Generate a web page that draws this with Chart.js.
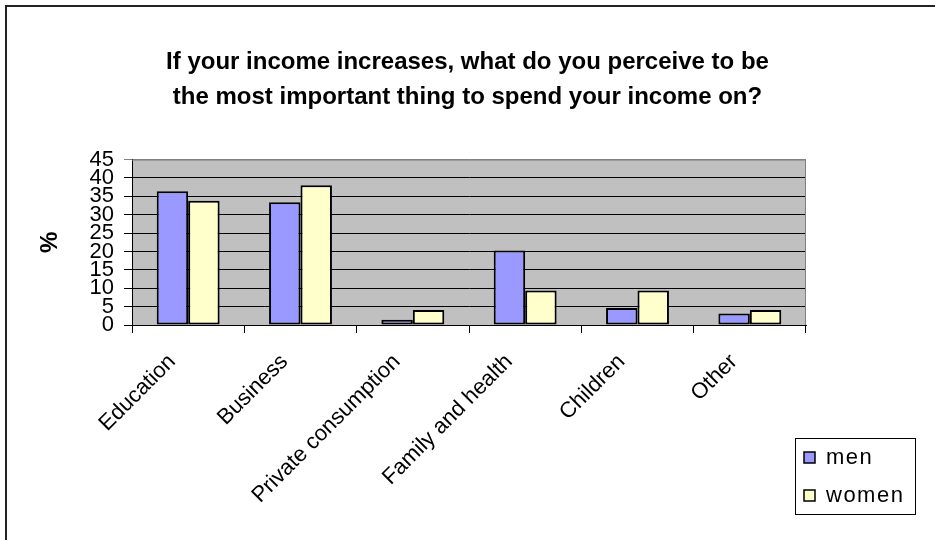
<!DOCTYPE html>
<html>
<head>
<meta charset="utf-8">
<script src="https://cdn.jsdelivr.net/npm/chart.js@4.4.1/dist/chart.umd.min.js"></script>
<style>
  html, body { margin: 0; padding: 0; background: #fff; }
  #wrap { width: 935px; height: 540px; position: relative; }
</style>
</head>
<body>
<div id="wrap"><canvas id="bar-chart" width="935" height="540"></canvas></div>
<script>
var categories = ['Education', 'Business', 'Private consumption', 'Family and health', 'Children', 'Other'];
var menValues = [36.4, 33.4, 1.4, 20.3, 4.6, 3.1];
var womenValues = [33.8, 38.0, 4.1, 9.4, 9.4, 4.1];
var yTicks = [0, 5, 10, 15, 20, 25, 30, 35, 40, 45];
var titleLines = ['If your income increases, what do you perceive to be', 'the most important thing to spend your income on?'];

var fontName = '"Liberation Sans", Arial, sans-serif';

// grey plot area + outer frame
var backgroundPlugin = {
    id: 'background',
    beforeDraw: function(chart) {
        var ctx = chart.ctx;
        var a = chart.chartArea;
        ctx.save();
        ctx.fillStyle = '#fff';
        ctx.fillRect(0, 0, chart.width, chart.height);
        ctx.strokeStyle = '#222';
        ctx.lineWidth = 2;
        ctx.beginPath();
        ctx.moveTo(6, chart.height + 5);
        ctx.lineTo(6, 6);
        ctx.lineTo(chart.width + 5, 6);
        ctx.stroke();
        ctx.fillStyle = '#c0c0c0';
        ctx.fillRect(a.left, a.top, a.right - a.left, a.bottom - a.top);
        ctx.restore();
    },
    afterDraw: function(chart) {
        var ctx = chart.ctx;
        var a = chart.chartArea;
        ctx.save();
        ctx.strokeStyle = '#808080';
        ctx.lineWidth = 1;
        ctx.beginPath();
        ctx.moveTo(a.left, a.top + 0.5);
        ctx.lineTo(a.right - 0.5, a.top + 0.5);
        ctx.lineTo(a.right - 0.5, a.bottom);
        ctx.stroke();
        ctx.restore();
    }
};

// legend box bottom right
var legendBoxPlugin = {
    id: 'legendBox',
    afterDraw: function(chart) {
        var ctx = chart.ctx;
        var x = 795, y = 438, w = 120, h = 76;
        ctx.save();
        ctx.strokeStyle = '#000';
        ctx.lineWidth = 1;
        ctx.strokeRect(x + 0.5, y + 0.5, w, h);
        ctx.font = '22px ' + fontName;
        ctx.textBaseline = 'middle';
        ctx.fillStyle = '#000';
        if ('letterSpacing' in ctx) ctx.letterSpacing = '1.5px';
        chart.data.datasets.forEach(function(ds, i) {
            var cy = y + 19 + i * 38;
            ctx.fillStyle = ds.backgroundColor;
            ctx.fillRect(x + 9, cy - 5, 11, 11);
            ctx.strokeStyle = '#000';
            ctx.lineWidth = 1.5;
            ctx.strokeRect(x + 9, cy - 5, 11, 11);
            ctx.fillStyle = '#000';
            ctx.fillText(ds.label, x + 31, cy + 1);
        });
        ctx.restore();
    }
};

function buildBarChart(selettore) {
    var ctx = $(selettore);
    return new Chart(ctx, {
        type: 'bar',
        data: {
            labels: categories,
            datasets: [{
                label: 'men',
                data: menValues,
                backgroundColor: '#9999ff',
                borderColor: '#000',
                borderWidth: 2,
                borderSkipped: false
            }, {
                label: 'women',
                data: womenValues,
                backgroundColor: '#ffffcc',
                borderColor: '#000',
                borderWidth: 2,
                borderSkipped: false
            }]
        },
        options: {
            responsive: false,
            animation: false,
            layout: { padding: 0 },
            datasets: {
                bar: { categoryPercentage: 0.56, barPercentage: 1 }
            },
            plugins: {
                legend: { display: false },
                tooltip: { enabled: false },
                title: {
                    display: true,
                    text: titleLines,
                    color: '#000',
                    font: { family: fontName, size: 24, weight: 'bold', lineHeight: 1.45 },
                    padding: { top: 45, bottom: 45 }
                }
            },
            scales: {
                x: {
                    offset: true,
                    grid: {
                        offset: true,
                        drawOnChartArea: false,
                        drawTicks: true,
                        tickLength: 8,
                        color: '#000'
                    },
                    border: { display: true, color: '#000', width: 1 },
                    ticks: {
                        color: '#000',
                        font: { family: fontName, size: 22 },
                        maxRotation: 45,
                        minRotation: 45,
                        padding: 16,
                        labelOffset: -16,
                        autoSkip: false
                    },
                    afterFit: function(s) { s.height = 215; }
                },
                y: {
                    min: 0,
                    max: 45,
                    afterBuildTicks: function(s) {
                        s.ticks = yTicks.map(function(v) { return { value: v }; });
                    },
                    grid: {
                        drawTicks: true,
                        tickLength: 8,
                        color: function(c) { return c.tick && c.tick.value === 45 ? '#808080' : '#000'; }
                    },
                    border: { display: true, color: '#000', width: 1 },
                    ticks: {
                        color: '#000',
                        font: { family: fontName, size: 22, lineHeight: 1 },
                        padding: 10,
                        autoSkip: false
                    },
                    title: {
                        display: true,
                        text: '%',
                        color: '#000',
                        font: { family: fontName, size: 24, weight: 'bold', lineHeight: 1.2 },
                        padding: { top: 36, bottom: 0 }
                    },
                    afterFit: function(s) { s.width = 132; }
                },
                spacer: {
                    type: 'linear',
                    position: 'right',
                    display: true,
                    grid: { display: false },
                    border: { display: false },
                    ticks: { display: false },
                    afterFit: function(s) { s.width = 129; }
                }
            }
        },
        plugins: [backgroundPlugin, legendBoxPlugin]
    });
}

function $(id) {
    return document.querySelector(id);
}

buildBarChart('#bar-chart');
</script>
</body>
</html>
